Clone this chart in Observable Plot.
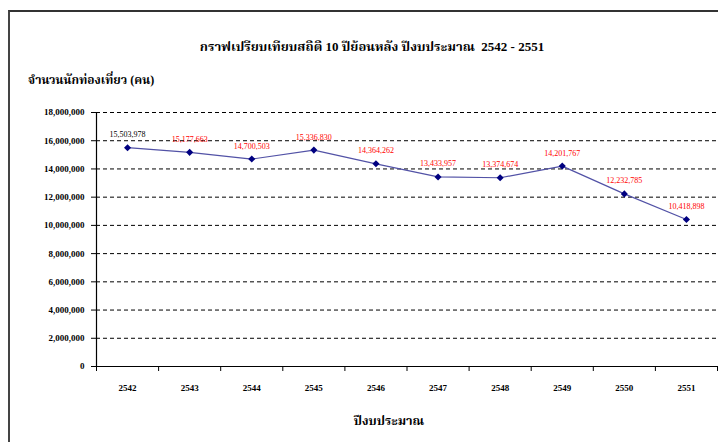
<!DOCTYPE html>
<html>
<head>
<meta charset="utf-8">
<script src="https://cdn.jsdelivr.net/npm/d3@7"></script>
<script src="https://cdn.jsdelivr.net/npm/@observablehq/plot@0.6"></script>
<style>
  html, body { margin: 0; padding: 0; background: #fff; }
  #wrap { position: relative; width: 718px; height: 442px; overflow: hidden; font-family: "Liberation Serif", "Noto Serif Thai", "Noto Sans Thai", serif; }
  #frame { position: absolute; left: 8px; top: 10px; width: 720px; height: 440px; border-left: 2px solid #444; border-top: 2px solid #333; box-sizing: border-box; }
  .t { position: absolute; font-weight: bold; color: #000; white-space: nowrap; }
  #title { left: 0; width: 744px; top: 37px; text-align: center; font-size: 13px; }
  #ytitle { left: 28px; top: 71px; font-size: 12px; }
  #xtitle { left: 0; width: 778px; top: 412px; text-align: center; font-size: 12.5px; }
  #chart { position: absolute; left: 0; top: 0; }
</style>
</head>
<body>
<div id="wrap">
  <div id="frame"></div>
  <div id="chart"></div>
  <div class="t" id="title">กราฟเปรียบเทียบสถิติ 10 ปีย้อนหลัง ปีงบประมาณ&nbsp; 2542 - 2551</div>
  <div class="t" id="ytitle">จำนวนนักท่องเที่ยว (คน)</div>
  <div class="t" id="xtitle">ปีงบประมาณ</div>
</div>
<script>
const years = ["2542","2543","2544","2545","2546","2547","2548","2549","2550","2551"];
const visitors = [15503978, 15177663, 14700503, 15336830, 14364262, 13433957, 13374674, 14201767, 12232785, 10418898];
const yTicks = [0, 2000000, 4000000, 6000000, 8000000, 10000000, 12000000, 14000000, 16000000, 18000000];

const data = years.map((y, i) => ({i, year: y, v: visitors[i]}));
const idx = years.map((_, i) => i);
const bounds = [...idx.map(i => i - 0.5), years.length - 0.5];
const gridVals = yTicks.filter(t => t > 0);
const fmt = d3.format(",");
const font = "Liberation Serif, serif";

const chart = Plot.plot({
  width: 718,
  height: 442,
  marginLeft: 96,
  marginRight: 1,
  marginTop: 112,
  marginBottom: 76,
  style: {fontFamily: font, background: "transparent", overflow: "visible"},
  x: {domain: [-0.5, years.length - 0.5], axis: null, label: null},
  y: {domain: [0, 18000000], axis: null, label: null},
  marks: [
    Plot.ruleY(gridVals, {stroke: "#000", strokeDasharray: "4,3", strokeWidth: 1}),
    Plot.axisY({ticks: yTicks, tickFormat: fmt, tickSize: 5, tickPadding: 7, fontSize: 9, fontWeight: "bold", fontFamily: font, stroke: "#000", fill: "#000", label: null}),
    Plot.axisX({ticks: bounds, tickFormat: () => "", tickSize: 5, stroke: "#000", label: null}),
    Plot.axisX({ticks: idx, tickFormat: i => years[i], tickSize: 0, tickPadding: 18, fontSize: 9, fontWeight: "bold", fontFamily: font, fill: "#000", label: null}),
    Plot.ruleX([-0.5], {stroke: "#000", strokeWidth: 1.2}),
    Plot.ruleY([0], {stroke: "#000", strokeWidth: 1.2}),
    Plot.line(data, {x: "i", y: "v", stroke: "#5252a6", strokeWidth: 1.2}),
    Plot.dot(data, {x: "i", y: "v", symbol: "diamond2", r: 3.2, fill: "#000080", stroke: "none"}),
    Plot.text(data.slice(0, 1), {x: "i", y: "v", text: d => fmt(d.v), dy: -13, fontSize: 8, fill: "#000", fontFamily: font}),
    Plot.text(data.slice(1), {x: "i", y: "v", text: d => fmt(d.v), dy: -13, fontSize: 8, fill: "#ff0000", fontFamily: font})
  ]
});
document.getElementById("chart").appendChild(chart);
</script>
</body>
</html>
